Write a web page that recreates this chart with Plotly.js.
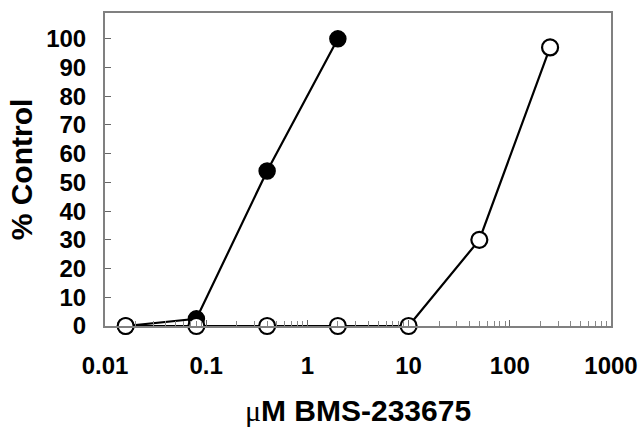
<!DOCTYPE html>
<html>
<head>
<meta charset="utf-8">
<script src="https://cdn.plot.ly/plotly-3.0.1.min.js"></script>
<style>html,body{margin:0;padding:0;background:#fff;}#chart{width:644px;height:427px;}</style>
</head>
<body>
<div id="chart"></div>
<script>
const filledConc = [0.016, 0.08, 0.4, 2];
const filledPct = [0, 2.5, 54, 100];
const openConc = [0.016, 0.08, 0.4, 2, 10, 50, 250];
const openPct = [0, 0, 0, 0, 0, 30, 97];
const xTickVals = [0.01, 0.1, 1, 10, 100, 1000];
const xTickText = ["0.01", "0.1", "1", "10", "100", "1000"];
const yTickVals = [0, 10, 20, 30, 40, 50, 60, 70, 80, 90, 100];
const xTitle = '<span style="font-family:Liberation Serif;font-weight:normal">μ</span>M BMS-233675';
const yTitle = "% Control";

const fam = "Liberation Sans, Arial, sans-serif";

const traces = [
  {
    x: filledConc, y: filledPct, type: "scatter", mode: "lines+markers",
    line: {color: "#000", width: 2.2},
    marker: {symbol: "circle", size: 16, color: "#000", line: {color: "#000", width: 1.5}},
    cliponaxis: false, showlegend: false
  },
  {
    x: openConc, y: openPct, type: "scatter", mode: "lines+markers",
    line: {color: "#000", width: 2.2},
    marker: {symbol: "circle", size: 16, color: "#fff", line: {color: "#000", width: 2.2}},
    cliponaxis: false, showlegend: false
  }
];

const layout = {
  width: 644, height: 427,
  margin: {l: 105, r: 33, t: 13, b: 101},
  paper_bgcolor: "#fff", plot_bgcolor: "#fff",
  showlegend: false,
  xaxis: {
    type: "log", range: [-2, 3], automargin: false,
    tickvals: xTickVals, ticktext: xTickText,
    ticks: "inside", ticklen: 6, tickcolor: "#666", tickwidth: 1,
    minor: {ticks: "inside", ticklen: 5, tickcolor: "#888", dtick: "D1", showgrid: false},
    showline: true, mirror: true, linecolor: "#808080", linewidth: 2,
    showgrid: false, zeroline: false,
    ticklabelstandoff: 17,
    tickfont: {family: fam, size: 24, color: "#000", weight: "bold"},
    title: {text: xTitle, standoff: 25, font: {family: fam, size: 30, color: "#000", weight: "bold"}}
  },
  yaxis: {
    range: [0, 109], automargin: false,
    tickvals: yTickVals,
    ticks: "inside", ticklen: 6, tickcolor: "#666", tickwidth: 1,
    showline: true, mirror: true, linecolor: "#808080", linewidth: 2,
    showgrid: false, zeroline: false,
    ticklabelstandoff: 12,
    tickfont: {family: fam, size: 24, color: "#000", weight: "bold"},
    title: {text: yTitle, standoff: 5, font: {family: fam, size: 30, color: "#000", weight: "bold"}}
  }
};

Plotly.newPlot("chart", traces, layout, {displayModeBar: false, staticPlot: true});
</script>
</body>
</html>
